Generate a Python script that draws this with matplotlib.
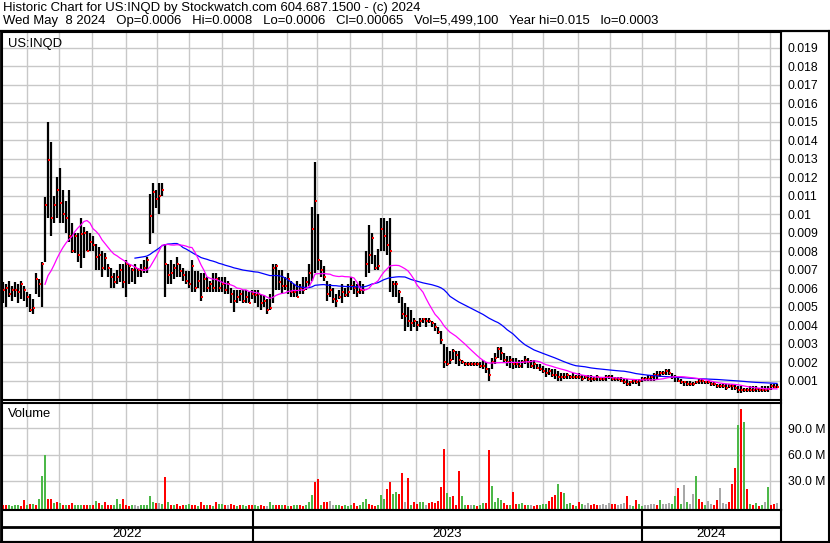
import numpy as np
import pandas as pd
import matplotlib
matplotlib.use("Agg")
import matplotlib.pyplot as plt

# ---------------- data (price in units of 0.0001, volume in millions) -------------
highs = [63,62,64,61,63,62,64,61,58,57,54,68,65,74,109,150,139,110,120,125,
         113,107,113,95,90,90,98,93,91,90,88,84,82,80,79,73,71,68,70,73,
         73,75,73,71,73,71,73,75,77,111,117,113,117,117,84,73,75,73,77,73,
         71,69,69,75,69,69,68,68,66,64,68,68,66,66,66,64,60,59,59,59,
         59,59,58,59,59,59,57,56,54,57,73,73,70,70,66,68,64,62,64,62,
         66,66,73,104,128,100,75,72,64,62,60,57,59,62,60,62,66,64,62,64,
         62,80,94,90,78,81,98,98,96,98,64,64,59,55,52,50,48,44,42,44,
         44,44,44,42,41,39,37,30,28,26,27,26,26,21,20,20,20,20,20,20,
         21,20,17,22,25,28,28,25,23,23,22,22,21,21,23,22,21,21,19,19,
         18,17,17,16,16,15,14,14,14,13,14,13,14,13,13,13,13,12,13,12,
         12,13,13,13,12,12,12,11,11,10,11,11,11,12,12,13,13,14,15,15,
         15,16,16,14,13,12,11,10,10,10,9,10,11,11,10,10,9,9,8,8,
         8,8,8,8,8,7,7,6,6,7,7,7,6,7,7,7,8,8,8]
lows = [52,50,55,53,55,52,54,53,50,47,46,57,55,50,74,98,88,95,98,95,
        95,90,85,79,79,74,71,76,80,80,80,70,70,66,70,66,60,60,62,63,
        60,55,62,63,62,66,66,68,68,84,90,103,100,110,55,62,62,65,66,66,
        64,62,60,58,58,60,53,58,58,58,58,58,58,58,57,57,52,47,52,53,
        52,52,52,54,52,50,48,50,46,48,52,59,59,57,59,57,55,55,55,57,
        57,59,61,64,68,70,66,64,53,55,52,50,54,52,55,55,59,57,55,57,
        57,66,68,73,70,70,80,80,78,58,55,55,52,43,37,39,37,39,37,39,
        41,39,41,39,37,35,30,17,18,19,21,19,18,19,18,18,18,18,18,17,
        16,14,10,16,19,22,21,20,18,17,16,17,17,17,19,17,17,16,16,15,
        14,12,13,12,11,10,10,11,11,11,11,11,11,10,11,10,9,10,10,10,
        10,10,11,10,10,10,9,8,7,7,8,8,7,9,10,10,10,10,11,12,
        13,13,13,11,9,9,8,7,7,7,7,8,8,8,8,8,7,7,6,6,
        6,5,6,5,5,3,3,4,4,4,4,4,4,4,4,4,5,6,6]
closes = [59,60,57,59,59,58,62,59,55,48,49,65,62,73,105,129,98,105,113,106,
          100,98,88,80,88,78,89,90,80,85,83,77,78,71,76,71,66,63,66,70,
          63,73,72,70,71,70,70,71,75,99,112,108,110,113,73,67,68,71,73,69,
          67,64,62,72,60,64,55,65,60,62,60,65,60,62,59,62,57,53,55,57,
          53,55,52,57,56,57,52,53,48,49,71,72,63,61,61,65,58,58,55,60,
          59,63,68,92,107,75,70,66,57,59,54,53,55,58,56,58,61,60,58,59,
          59,73,78,87,71,72,92,88,83,80,62,62,58,46,45,42,41,42,40,42,
          43,42,42,41,39,36,32,20,19,21,26,24,21,20,19,19,19,19,19,18,
          18,16,13,20,22,27,25,21,20,21,19,19,18,20,21,20,18,19,17,16,
          15,14,15,13,13,12,12,12,13,12,12,12,12,11,12,11,11,11,12,11,
          11,12,12,11,11,11,10,9,8,9,10,9,10,11,11,11,12,13,13,14,
          14,15,14,12,12,10,9,9,8,8,8,9,10,10,9,9,8,8,7,7,
          7,6,7,7,6,5,5,5,5,5,5,5.5,5,5,5,5.5,7,6.5,6.5]
volumes = [1.5,2,1.5,1,2.5,1.5,1,7.3,2,3,3,1.5,8.5,35,59,8.5,8.5,4.5,6,4,
           2,2,2,4,1.5,2,2.5,1.5,2.5,1.5,2,7,4,2,6,2.5,2.5,2,8.5,3,
           8.5,2,1,1.5,1.5,1,2,1.5,2,11.9,6,4,4.5,3,33.8,6,2,1.5,3,1,
           1.5,1.5,3,2,1.5,1,5,2,1.5,1.5,1,5,3,3,2,1.5,3,1.5,1,1.5,
           1.5,1,1.5,1.5,2,1,1.5,1,1,6,2,1.5,1.5,2,1.5,1,1,1.5,2,1.5,
           1,2,6,14,28.8,31.5,2.5,5,5,7,2,2,1.5,1,1.5,1,1.5,4,1,1.5,
           6,9,3,1.5,1,2,13,8.5,20,28,14.6,17,14.6,38.4,5,32.6,2,5,3,5,
           5,2,4,5,4,7,22.7,66,16,11,12.7,2,40.7,11.9,2,1.5,2,1.5,1,2,
           4.5,4.5,65,23.4,5,10,8,4,1.5,2,16.5,3,3,4.5,2,1.5,2,1,1.5,2.5,
           3,3,7,11,13,25.7,17,16,3,4,1.5,1,6,3,2,4.5,1.5,3,1.5,2,
           3.5,2,4.5,3,3,2.5,3.5,4.5,12,1.5,1,7.5,3.5,1,1.5,2.5,3.5,3,1.5,8,
           3,3,4.5,3,11.9,21.5,3,24.6,5,3,15,35,8.5,5,1.5,7,3,2,8,21.5,
           4.5,3,6,25.7,44.6,94,112,97,20,3,1.5,4.5,1,2,6,23,1.5,3,4.5]
# r = down day (red), g = up day (green), n = unchanged (grey)
vol_dir = list("rrggggrrgrgrgggrrgrg"
               "rgrrgggrrgrgrgrrrggg"
               "rrrgnngggggrngrgrgrr"
               "rggrrgrrgrgrggrnrrgr"
               "ggrrggrrnggrrgrgrggr"
               "rgggrrgrrnnggrgggrrg"
               "ggrrrgggrrggrrnrgrrg"
               "gnrrrrrrggrrrggrngrg"
               "grrggggrrgrrggrgnrrg"
               "ggrrrgrgggrgrgnnrrrn"
               "nnnrrnnnrngrggnnnnrg"
               "nnnggrgngnngrrgnnrrn"
               "nnrrrgrgrgrgrgngrrn")
# chart labels
title_1 = "Historic Chart for US:INQD by Stockwatch.com 604.687.1500 - (c) 2024"
title_2 = ("Wed May  8 2024   Op=0.0006   Hi=0.0008   Lo=0.0006   Cl=0.00065   "
           "Vol=5,499,100   Year hi=0.015   lo=0.0003")
symbol = "US:INQD"
price_ticks = [0.001, 0.002, 0.003, 0.004, 0.005, 0.006, 0.007, 0.008, 0.009, 0.010,
               0.011, 0.012, 0.013, 0.014, 0.015, 0.016, 0.017, 0.018, 0.019]
vol_ticks = [30, 60, 90]
years = ["2022", "2023", "2024"]
year_bounds = [83.33, 213.0]          # bar index where a new year starts
month_starts = [8.0, 18.67, 29.67, 41.0, 51.33, 62.0, 73.0, 83.33, 94.67, 104.67,
                115.67, 126.33, 137.67, 148.0, 158.67, 169.67, 180.0, 191.67,
                202.33, 213.0, 224.0, 234.33, 245.0, 255.67]
ma_short, ma_long = 15, 45            # bars (2 trading days each)

# ---------------- figure ----------------
W, H = 830, 543
plt.rcParams['font.family'] = ['Liberation Sans', 'DejaVu Sans']
fig = plt.figure(figsize=(W / 100, H / 100), dpi=100)
fig.patch.set_facecolor('white')


def rect(x0, y0, x1, y1):
    return [x0 / W, 1 - y1 / H, (x1 - x0) / W, (y1 - y0) / H]


n = len(closes)
xi = np.arange(n)
XL = (-0.333, n + 0.333)
sc = 1e-4
hi = np.array(highs, float) * sc
lo = np.array(lows, float) * sc
cl = np.array(closes, float) * sc
vol = np.array(volumes, float)
cmap = {'r': '#ff0000', 'g': '#4cb848', 'n': '#a8a8a8'}
vcol = [cmap[c] for c in vol_dir[:n]]

grid_c = '#c8c8c8'

# ---- price panel
ax = fig.add_axes(rect(2, 32, 781, 400))
ax.set_xlim(*XL)
ax.set_ylim(-0.000054, 0.01984)
ax.set_xticks(month_starts)
ax.set_xticklabels([])
ax.set_yticks(price_ticks)
ax.set_yticklabels([f"{round(v, 3):g}" for v in price_ticks])
ax.yaxis.tick_right()
ax.tick_params(axis='y', length=0, pad=5, labelsize=8.7, colors='black')
ax.tick_params(axis='x', length=0)
ax.grid(True, color=grid_c, lw=1.0)
ax.set_axisbelow(True)
ax.vlines(xi, lo, hi, color='black', lw=1.6, zorder=3)
ax.plot(xi + 0.3, cl, ls='none', marker='s', ms=1.7, mew=0, color='#ff0000', zorder=4)
ma1 = pd.Series(cl).rolling(ma_short).mean()
ma2 = pd.Series(cl).rolling(ma_long).mean()
ax.plot(xi, ma2, color='#0000ff', lw=0.9, zorder=5)
ax.plot(xi, ma1, color='#ff00ff', lw=0.9, zorder=5)
for s in ax.spines.values():
    s.set_color('black')
    s.set_linewidth(1.5)
ax.text(0.008, 0.985, symbol, transform=ax.transAxes, ha='left', va='top', fontsize=9.4)

# ---- volume panel
VB = -3.1
axv = fig.add_axes(rect(2, 402.5, 781, 509.5))
axv.set_xlim(*XL)
axv.set_ylim(VB, 119.8)
axv.set_xticks(month_starts)
axv.set_xticklabels([])
axv.set_yticks(vol_ticks)
axv.set_yticklabels([f"{v:.1f} M" for v in vol_ticks])
axv.yaxis.tick_right()
axv.tick_params(axis='y', length=0, pad=5, labelsize=8.7, colors='black')
axv.tick_params(axis='x', length=0)
axv.grid(True, color=grid_c, lw=1.0)
axv.set_axisbelow(True)
axv.bar(xi, vol - VB, bottom=VB, width=0.75, color=vcol, lw=0, zorder=3)
for s in axv.spines.values():
    s.set_color('black')
    s.set_linewidth(1.5)
axv.text(0.008, 0.95, "Volume", transform=axv.transAxes, ha='left', va='top', fontsize=9.4)

# ---- date axis rows
axd = fig.add_axes(rect(2, 509.5, 781, 541.5))
axd.set_xlim(*XL)
axd.set_ylim(32, 0)
axd.set_xticks([])
axd.set_yticks([])
for s in axd.spines.values():
    s.set_color('black')
    s.set_linewidth(1.5)
axd.axhline(17.2, color='black', lw=2.0)
axd.vlines(year_bounds, 0, 32, color='black', lw=1.5)
edges = [XL[0]] + year_bounds + [XL[1]]
for k, y in enumerate(years):
    axd.text((edges[k] + edges[k + 1]) / 2, 24.8, y, ha='center', va='center', fontsize=9.6)

# ---- header and frame
fig.text(3 / W, 1 - 8 / H, title_1, ha='left', va='center', fontsize=9.45)
fig.text(3 / W, 1 - 21 / H, title_2, ha='left', va='center', fontsize=9.45)
axo = fig.add_axes([0, 0, 1, 1], zorder=10)
axo.set_xlim(0, W)
axo.set_ylim(H, 0)
axo.axis('off')
axo.plot([0, W], [31, 31], color='black', lw=1.6)
axo.plot([1, 1], [31, H], color='black', lw=2)
axo.plot([W - 1, W - 1], [31, H], color='black', lw=1.5)
axo.plot([0, W], [H - 1.5, H - 1.5], color='black', lw=1.5)

fig.savefig("out.png", dpi=100)
